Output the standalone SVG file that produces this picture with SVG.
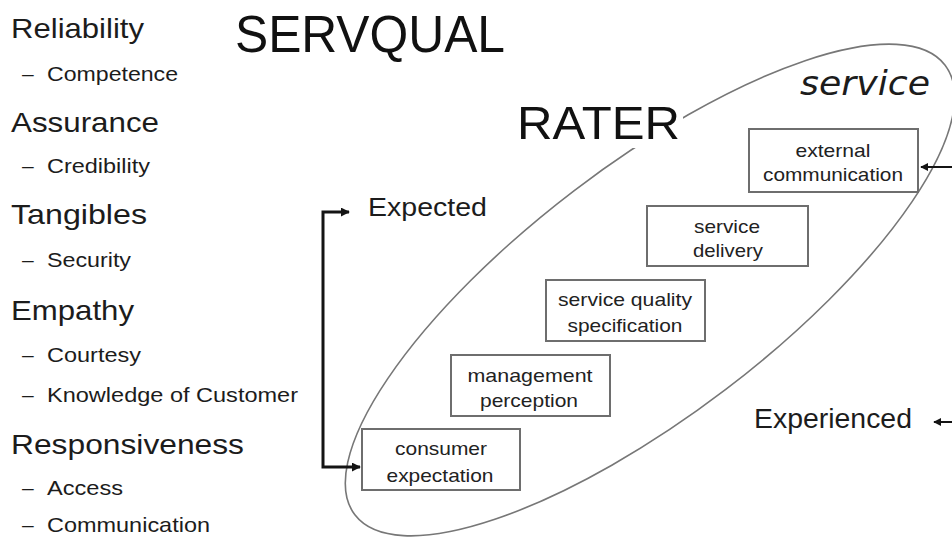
<svg xmlns="http://www.w3.org/2000/svg" width="952" height="537" viewBox="0 0 952 537">
<style>
  text { font-family: "Liberation Sans", Arial, sans-serif; fill: #1c1c1c; }
  .head { font-size: 28px; }
  .sub { font-size: 21px; }
  .title { font-size: 51px; fill: #111; }
  .big { font-size: 27px; }
  .box rect { fill: #fff; stroke: #6e6e6e; stroke-width: 2; }
  .box text { font-size: 19px; text-anchor: middle; fill: #222; }
  .conn { fill: none; stroke: #141414; stroke-width: 3; }
  .thin { fill: none; stroke: #141414; stroke-width: 2; }
</style>
<defs>
  <marker id="ah" viewBox="0 0 10 10" refX="9" refY="5" markerWidth="3" markerHeight="3" orient="auto-start-reverse" markerUnits="strokeWidth">
    <path d="M0,0 L10,5 L0,10 z" fill="#141414"/>
  </marker>
  <marker id="ah2" viewBox="0 0 10 10" refX="9" refY="5" markerWidth="4" markerHeight="4" orient="auto" markerUnits="strokeWidth">
    <path d="M0,0 L10,5 L0,10 z" fill="#141414"/>
  </marker>
</defs>
<rect width="952" height="537" fill="#fff"/>

<!-- ellipse -->
<g id="ellipse">
  <ellipse cx="650" cy="290" rx="371" ry="125" transform="rotate(-37.3 650 290)" fill="none" stroke="#777" stroke-width="1.6"/>
</g>

<!-- left list -->
<g id="dimensions">
  <text class="head" x="11" y="38" textLength="133" lengthAdjust="spacingAndGlyphs">Reliability</text>
  <text class="sub" x="22" y="81">–<tspan x="47" textLength="131" lengthAdjust="spacingAndGlyphs">Competence</tspan></text>
  <text class="head" x="11" y="132" textLength="148" lengthAdjust="spacingAndGlyphs">Assurance</text>
  <text class="sub" x="22" y="173">–<tspan x="47" textLength="103" lengthAdjust="spacingAndGlyphs">Credibility</tspan></text>
  <text class="head" x="11" y="224" textLength="136" lengthAdjust="spacingAndGlyphs">Tangibles</text>
  <text class="sub" x="22" y="267">–<tspan x="47" textLength="84" lengthAdjust="spacingAndGlyphs">Security</tspan></text>
  <text class="head" x="11" y="320" textLength="123" lengthAdjust="spacingAndGlyphs">Empathy</text>
  <text class="sub" x="22" y="362">–<tspan x="47" textLength="94" lengthAdjust="spacingAndGlyphs">Courtesy</tspan></text>
  <text class="sub" x="22" y="402">–<tspan x="47" textLength="251" lengthAdjust="spacingAndGlyphs">Knowledge of Customer</tspan></text>
  <text class="head" x="11" y="454" textLength="233" lengthAdjust="spacingAndGlyphs">Responsiveness</text>
  <text class="sub" x="22" y="495">–<tspan x="47" textLength="76" lengthAdjust="spacingAndGlyphs">Access</tspan></text>
  <text class="sub" x="22" y="532">–<tspan x="47" textLength="163" lengthAdjust="spacingAndGlyphs">Communication</tspan></text>
</g>

<g id="servqual">
  <text class="title" x="235" y="52" textLength="270" lengthAdjust="spacingAndGlyphs">SERVQUAL</text>
</g>

<g id="rater">
  <rect x="508" y="96" width="175" height="52" fill="#fff"/>
  <text class="title" x="517" y="139" style="font-size:47px" textLength="163" lengthAdjust="spacingAndGlyphs">RATER</text>
</g>

<g id="service-label">
  <text x="800" y="95" style="font-family:'DejaVu Sans','Verdana',sans-serif;font-style:italic;font-size:33px" textLength="130" lengthAdjust="spacingAndGlyphs">service</text>
</g>

<g id="expected">
  <text class="big" x="368" y="216" style="font-size:25px" textLength="119" lengthAdjust="spacingAndGlyphs">Expected</text>
</g>

<g id="experienced">
  <text class="big" x="754" y="428" textLength="158" lengthAdjust="spacingAndGlyphs">Experienced</text>
</g>

<g id="consumer-expectation" class="box">
  <rect x="362" y="429" width="158" height="61"/>
  <text x="441" y="455" textLength="92" lengthAdjust="spacingAndGlyphs">consumer</text>
  <text x="440" y="482" textLength="107" lengthAdjust="spacingAndGlyphs">expectation</text>
</g>

<g id="management-perception" class="box">
  <rect x="451" y="355" width="159" height="61"/>
  <text x="530" y="382" textLength="125" lengthAdjust="spacingAndGlyphs">management</text>
  <text x="529" y="407" textLength="98" lengthAdjust="spacingAndGlyphs">perception</text>
</g>

<g id="service-quality-specification" class="box">
  <rect x="546" y="280" width="159" height="61"/>
  <text x="625" y="306" textLength="134" lengthAdjust="spacingAndGlyphs">service quality</text>
  <text x="625" y="332" textLength="115" lengthAdjust="spacingAndGlyphs">specification</text>
</g>

<g id="service-delivery" class="box">
  <rect x="647" y="206" width="161" height="60"/>
  <text x="727" y="233" textLength="66" lengthAdjust="spacingAndGlyphs">service</text>
  <text x="728" y="257" textLength="70" lengthAdjust="spacingAndGlyphs">delivery</text>
</g>

<g id="external-communication" class="box">
  <rect x="749" y="129" width="169" height="63"/>
  <text x="833" y="157" textLength="75" lengthAdjust="spacingAndGlyphs">external</text>
  <text x="833" y="181" textLength="140" lengthAdjust="spacingAndGlyphs">communication</text>
</g>

<g id="connectors">
  <path class="conn" d="M349,212 L323,212 L323,467 L360,467" marker-start="url(#ah)" marker-end="url(#ah)"/>
  <path class="thin" d="M952,167 L921,167" marker-end="url(#ah2)"/>
  <path class="thin" d="M952,422 L934,422" marker-end="url(#ah2)"/>
</g>
</svg>
